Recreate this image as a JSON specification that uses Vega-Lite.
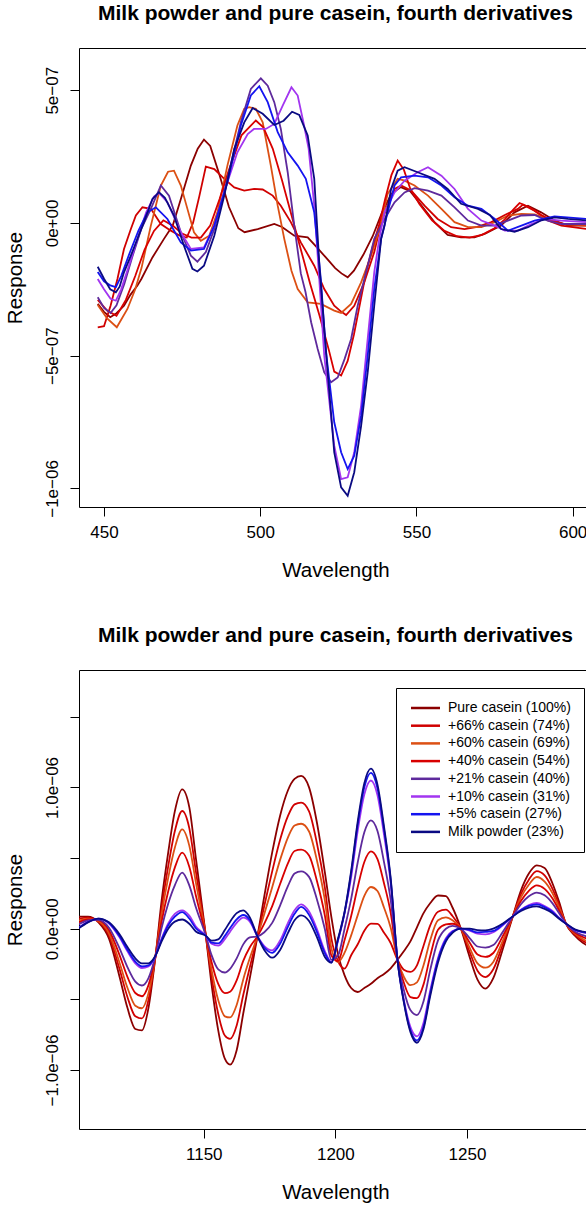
{
"$schema": "https://vega.github.io/schema/vega-lite/v6.json",
"background": "white",
"padding": {"left": 4, "top": 2, "right": 0, "bottom": 0},
"spacing": 43,
"config": {
  "font": "Liberation Sans",
  "view": {"stroke": "#000", "strokeWidth": 1},
  "axis": {"grid": false, "domain": false, "ticks": true, "tickColor": "#000", "tickSize": 9, "labelColor": "#000", "labelFont": "Liberation Sans", "labelFontSize": 17, "titleFont": "Liberation Sans", "titleFontSize": 20.5, "titleFontWeight": "normal", "titleColor": "#000", "labelFlush": false, "labelOverlap": false},
  "title": {"font": "Liberation Sans", "fontSize": 21, "fontWeight": "bold", "color": "#000", "anchor": "middle", "baseline": "alphabetic", "offset": 24}
},
"datasets": {
"series": [{"s":1,"name":"Pure casein (100%)"},{"s":2,"name":"+66% casein (74%)"},{"s":3,"name":"+60% casein (69%)"},{"s":4,"name":"+40% casein (54%)"},{"s":5,"name":"+21% casein (40%)"},{"s":6,"name":"+10% casein (31%)"},{"s":7,"name":"+5% casein (27%)"},{"s":8,"name":"Milk powder (23%)"}],
"p1": [
{"s":1,"w":448,"v":-3.05e-7},{"s":1,"w":450,"v":-3.35e-7},{"s":1,"w":452,"v":-3.55e-7},{"s":1,"w":454,"v":-3.4e-7},{"s":1,"w":456.4,"v":-3.12e-7},{"s":1,"w":458.5,"v":-2.7e-7},{"s":1,"w":460.7,"v":-2.36e-7},{"s":1,"w":462,"v":-2.1e-7},{"s":1,"w":465.5,"v":-1.3e-7},{"s":1,"w":469.2,"v":-0.6e-7},{"s":1,"w":472,"v":-0.1e-7},{"s":1,"w":474.6,"v":0.9e-7},{"s":1,"w":477.8,"v":2.16e-7},{"s":1,"w":480,"v":2.8e-7},{"s":1,"w":482,"v":3.14e-7},{"s":1,"w":484,"v":2.9e-7},{"s":1,"w":487,"v":1.8e-7},{"s":1,"w":490,"v":0.6e-7},{"s":1,"w":493,"v":-0.2e-7},{"s":1,"w":495,"v":-0.35e-7},{"s":1,"w":499.2,"v":-0.23e-7},{"s":1,"w":504.5,"v":-0.04e-7},{"s":1,"w":507,"v":-0.15e-7},{"s":1,"w":510.9,"v":-0.48e-7},{"s":1,"w":515.2,"v":-0.54e-7},{"s":1,"w":518,"v":-0.9e-7},{"s":1,"w":521,"v":-1.3e-7},{"s":1,"w":524,"v":-1.7e-7},{"s":1,"w":526,"v":-1.9e-7},{"s":1,"w":528,"v":-2.05e-7},{"s":1,"w":530,"v":-1.8e-7},{"s":1,"w":533,"v":-1.2e-7},{"s":1,"w":536,"v":-0.5e-7},{"s":1,"w":539,"v":0.4e-7},{"s":1,"w":542,"v":1.1e-7},{"s":1,"w":545,"v":1.35e-7},{"s":1,"w":548,"v":1.2e-7},{"s":1,"w":552,"v":0.6e-7},{"s":1,"w":556,"v":0},{"s":1,"w":560,"v":-0.45e-7},{"s":1,"w":564.3,"v":-0.54e-7},{"s":1,"w":568.6,"v":-0.54e-7},{"s":1,"w":572,"v":-0.4e-7},{"s":1,"w":577.1,"v":-0.1e-7},{"s":1,"w":581.4,"v":0.4e-7},{"s":1,"w":585.7,"v":0.65e-7},{"s":1,"w":589.9,"v":0.4e-7},{"s":1,"w":594.2,"v":0.09e-7},{"s":1,"w":598.5,"v":-0.1e-7},{"s":1,"w":604.7,"v":-0.1e-7},
{"s":2,"w":448,"v":-3.93e-7},{"s":2,"w":450,"v":-3.89e-7},{"s":2,"w":452.1,"v":-3.12e-7},{"s":2,"w":454.3,"v":-2.11e-7},{"s":2,"w":456.4,"v":-0.98e-7},{"s":2,"w":458.6,"v":-0.23e-7},{"s":2,"w":460.2,"v":0.28e-7},{"s":2,"w":462.3,"v":0.59e-7},{"s":2,"w":465,"v":0.53e-7},{"s":2,"w":468.2,"v":-0.04e-7},{"s":2,"w":471.4,"v":-0.29e-7},{"s":2,"w":474.6,"v":-0.5e-7},{"s":2,"w":476.5,"v":-0.55e-7},{"s":2,"w":478.5,"v":0},{"s":2,"w":480.5,"v":1.0e-7},{"s":2,"w":482.6,"v":2.12e-7},{"s":2,"w":485.3,"v":2.03e-7},{"s":2,"w":488.5,"v":1.66e-7},{"s":2,"w":491.7,"v":1.34e-7},{"s":2,"w":494.9,"v":1.22e-7},{"s":2,"w":498.1,"v":1.28e-7},{"s":2,"w":500.8,"v":1.26e-7},{"s":2,"w":504,"v":1.03e-7},{"s":2,"w":506.6,"v":0.65e-7},{"s":2,"w":509.8,"v":0.03e-7},{"s":2,"w":513,"v":-0.73e-7},{"s":2,"w":517.3,"v":-1.61e-7},{"s":2,"w":520.5,"v":-2.49e-7},{"s":2,"w":523.7,"v":-3.12e-7},{"s":2,"w":525.9,"v":-3.34e-7},{"s":2,"w":527.5,"v":-3.47e-7},{"s":2,"w":530.1,"v":-3.12e-7},{"s":2,"w":533.3,"v":-2.24e-7},{"s":2,"w":536.5,"v":-1.1e-7},{"s":2,"w":538.5,"v":-0.1e-7},{"s":2,"w":540.5,"v":0.6e-7},{"s":2,"w":543,"v":1.28e-7},{"s":2,"w":545.1,"v":1.41e-7},{"s":2,"w":548.3,"v":1.22e-7},{"s":2,"w":552.6,"v":0.65e-7},{"s":2,"w":556.8,"v":0.15e-7},{"s":2,"w":561.1,"v":-0.16e-7},{"s":2,"w":565.4,"v":-0.23e-7},{"s":2,"w":569.5,"v":-0.15e-7},{"s":2,"w":574,"v":0.03e-7},{"s":2,"w":578.3,"v":0.3e-7},{"s":2,"w":582.5,"v":0.53e-7},{"s":2,"w":584.1,"v":0.69e-7},{"s":2,"w":587.8,"v":0.46e-7},{"s":2,"w":592.1,"v":0.09e-7},{"s":2,"w":596.4,"v":-0.1e-7},{"s":2,"w":604.7,"v":-0.23e-7},
{"s":3,"w":448,"v":-3.09e-7},{"s":3,"w":451,"v":-3.6e-7},{"s":3,"w":454.1,"v":-3.93e-7},{"s":3,"w":457.5,"v":-3.24e-7},{"s":3,"w":460,"v":-2.5e-7},{"s":3,"w":462,"v":-1.7e-7},{"s":3,"w":465,"v":-0.1e-7},{"s":3,"w":468.2,"v":1.41e-7},{"s":3,"w":470.5,"v":1.93e-7},{"s":3,"w":472.4,"v":1.97e-7},{"s":3,"w":474.6,"v":1.41e-7},{"s":3,"w":476.7,"v":0.53e-7},{"s":3,"w":478.8,"v":-0.35e-7},{"s":3,"w":481,"v":-0.67e-7},{"s":3,"w":483.7,"v":-0.48e-7},{"s":3,"w":486.3,"v":0.4e-7},{"s":3,"w":489.5,"v":2.16e-7},{"s":3,"w":492.7,"v":3.67e-7},{"s":3,"w":494.9,"v":4.3e-7},{"s":3,"w":496.5,"v":4.36e-7},{"s":3,"w":498.6,"v":4.3e-7},{"s":3,"w":500.8,"v":3.79e-7},{"s":3,"w":503.4,"v":2.16e-7},{"s":3,"w":505.6,"v":0.65e-7},{"s":3,"w":507.7,"v":-0.6e-7},{"s":3,"w":510,"v":-1.8e-7},{"s":3,"w":512,"v":-2.49e-7},{"s":3,"w":515.2,"v":-2.99e-7},{"s":3,"w":519.4,"v":-3.05e-7},{"s":3,"w":523.7,"v":-3.3e-7},{"s":3,"w":525.9,"v":-3.39e-7},{"s":3,"w":529.1,"v":-3.05e-7},{"s":3,"w":532.3,"v":-2.24e-7},{"s":3,"w":535.5,"v":-1.23e-7},{"s":3,"w":538,"v":-0.3e-7},{"s":3,"w":540.8,"v":1.1e-7},{"s":3,"w":544,"v":1.66e-7},{"s":3,"w":546,"v":1.6e-7},{"s":3,"w":549.4,"v":1.41e-7},{"s":3,"w":553.7,"v":1.03e-7},{"s":3,"w":558,"v":0.53e-7},{"s":3,"w":562.2,"v":0.03e-7},{"s":3,"w":566.5,"v":-0.16e-7},{"s":3,"w":570.8,"v":-0.16e-7},{"s":3,"w":575.1,"v":0.03e-7},{"s":3,"w":579.3,"v":0.28e-7},{"s":3,"w":583.6,"v":0.34e-7},{"s":3,"w":587.8,"v":0.32e-7},{"s":3,"w":592.1,"v":0.15e-7},{"s":3,"w":596.4,"v":-0.04e-7},{"s":3,"w":604.7,"v":-0.1e-7},
{"s":4,"w":448,"v":-2.9e-7},{"s":4,"w":451,"v":-3.3e-7},{"s":4,"w":454,"v":-3.5e-7},{"s":4,"w":457,"v":-2.9e-7},{"s":4,"w":460,"v":-2.0e-7},{"s":4,"w":463,"v":-1.0e-7},{"s":4,"w":466,"v":-0.3e-7},{"s":4,"w":469,"v":0.1e-7},{"s":4,"w":472,"v":-0.1e-7},{"s":4,"w":475,"v":-0.4e-7},{"s":4,"w":478,"v":-0.55e-7},{"s":4,"w":481,"v":-0.55e-7},{"s":4,"w":484,"v":-0.1e-7},{"s":4,"w":487,"v":0.9e-7},{"s":4,"w":490,"v":2.0e-7},{"s":4,"w":494,"v":3.3e-7},{"s":4,"w":498.6,"v":3.86e-7},{"s":4,"w":501,"v":3.6e-7},{"s":4,"w":504,"v":2.8e-7},{"s":4,"w":507,"v":1.6e-7},{"s":4,"w":510,"v":0.3e-7},{"s":4,"w":513,"v":-1.0e-7},{"s":4,"w":516,"v":-2.3e-7},{"s":4,"w":519,"v":-3.5e-7},{"s":4,"w":522,"v":-4.8e-7},{"s":4,"w":523.7,"v":-5.6e-7},{"s":4,"w":525.9,"v":-5.75e-7},{"s":4,"w":528,"v":-5.2e-7},{"s":4,"w":530,"v":-4.2e-7},{"s":4,"w":532,"v":-3.0e-7},{"s":4,"w":534,"v":-1.8e-7},{"s":4,"w":536,"v":-0.9e-7},{"s":4,"w":538,"v":-0.1e-7},{"s":4,"w":540,"v":0.9e-7},{"s":4,"w":542,"v":1.8e-7},{"s":4,"w":544,"v":2.35e-7},{"s":4,"w":546,"v":2.0e-7},{"s":4,"w":548,"v":1.3e-7},{"s":4,"w":551,"v":0.7e-7},{"s":4,"w":555,"v":0.1e-7},{"s":4,"w":559,"v":-0.3e-7},{"s":4,"w":563,"v":-0.5e-7},{"s":4,"w":567,"v":-0.55e-7},{"s":4,"w":571,"v":-0.45e-7},{"s":4,"w":575,"v":-0.2e-7},{"s":4,"w":578,"v":0.1e-7},{"s":4,"w":581,"v":0.5e-7},{"s":4,"w":583,"v":0.75e-7},{"s":4,"w":586,"v":0.6e-7},{"s":4,"w":590,"v":0.3e-7},{"s":4,"w":594,"v":0.05e-7},{"s":4,"w":598,"v":-0.05e-7},{"s":4,"w":604.7,"v":-0.05e-7},
{"s":5,"w":448,"v":-2.8e-7},{"s":5,"w":450,"v":-3.2e-7},{"s":5,"w":452.1,"v":-3.39e-7},{"s":5,"w":454,"v":-3.1e-7},{"s":5,"w":456.5,"v":-2.3e-7},{"s":5,"w":459,"v":-1.3e-7},{"s":5,"w":462,"v":-0.2e-7},{"s":5,"w":465,"v":0.53e-7},{"s":5,"w":468.2,"v":1.41e-7},{"s":5,"w":470.8,"v":1.03e-7},{"s":5,"w":474.6,"v":-0.35e-7},{"s":5,"w":477.8,"v":-1.23e-7},{"s":5,"w":479.9,"v":-1.46e-7},{"s":5,"w":482.6,"v":-1.1e-7},{"s":5,"w":485.3,"v":-0.23e-7},{"s":5,"w":489.5,"v":1.66e-7},{"s":5,"w":493.8,"v":3.79e-7},{"s":5,"w":497,"v":5.05e-7},{"s":5,"w":500.2,"v":5.45e-7},{"s":5,"w":502.4,"v":5.17e-7},{"s":5,"w":504.5,"v":4.55e-7},{"s":5,"w":506.6,"v":3.54e-7},{"s":5,"w":508.8,"v":1.91e-7},{"s":5,"w":510.9,"v":-0.1e-7},{"s":5,"w":513,"v":-1.9e-7},{"s":5,"w":514.5,"v":-2.6e-7},{"s":5,"w":516.3,"v":-3.74e-7},{"s":5,"w":518.4,"v":-4.75e-7},{"s":5,"w":520.5,"v":-5.63e-7},{"s":5,"w":522.7,"v":-6.0e-7},{"s":5,"w":524.8,"v":-5.82e-7},{"s":5,"w":527,"v":-5.13e-7},{"s":5,"w":529.1,"v":-4.37e-7},{"s":5,"w":531.2,"v":-3.12e-7},{"s":5,"w":534.4,"v":-1.61e-7},{"s":5,"w":536.5,"v":-0.6e-7},{"s":5,"w":539.8,"v":0.15e-7},{"s":5,"w":543,"v":0.78e-7},{"s":5,"w":546.2,"v":1.15e-7},{"s":5,"w":549.4,"v":1.31e-7},{"s":5,"w":553.7,"v":1.22e-7},{"s":5,"w":558,"v":1.03e-7},{"s":5,"w":562.2,"v":0.59e-7},{"s":5,"w":566.5,"v":0.09e-7},{"s":5,"w":570.8,"v":-0.1e-7},{"s":5,"w":575,"v":-0.1e-7},{"s":5,"w":579.3,"v":0.09e-7},{"s":5,"w":583.6,"v":0.28e-7},{"s":5,"w":587.8,"v":0.3e-7},{"s":5,"w":592,"v":0.09e-7},{"s":5,"w":596.4,"v":-0.04e-7},{"s":5,"w":604.7,"v":-0.04e-7},
{"s":6,"w":448,"v":-2.11e-7},{"s":6,"w":450,"v":-2.5e-7},{"s":6,"w":452.1,"v":-2.86e-7},{"s":6,"w":453.8,"v":-2.93e-7},{"s":6,"w":455.5,"v":-2.5e-7},{"s":6,"w":458,"v":-1.6e-7},{"s":6,"w":461,"v":-0.5e-7},{"s":6,"w":463.5,"v":0.4e-7},{"s":6,"w":466,"v":0.99e-7},{"s":6,"w":467.6,"v":1.13e-7},{"s":6,"w":470.3,"v":0.78e-7},{"s":6,"w":474.6,"v":-0.35e-7},{"s":6,"w":477.8,"v":-0.98e-7},{"s":6,"w":482,"v":-0.92e-7},{"s":6,"w":485.3,"v":-0.1e-7},{"s":6,"w":489.5,"v":1.53e-7},{"s":6,"w":492.7,"v":2.66e-7},{"s":6,"w":496,"v":3.35e-7},{"s":6,"w":498,"v":3.54e-7},{"s":6,"w":501.8,"v":3.54e-7},{"s":6,"w":504.5,"v":3.73e-7},{"s":6,"w":507.2,"v":4.42e-7},{"s":6,"w":510,"v":5.11e-7},{"s":6,"w":512,"v":4.8e-7},{"s":6,"w":514,"v":3.7e-7},{"s":6,"w":515.5,"v":2.8e-7},{"s":6,"w":517.3,"v":0.65e-7},{"s":6,"w":518.9,"v":-2.11e-7},{"s":6,"w":520.5,"v":-5.0e-7},{"s":6,"w":523.7,"v":-8.39e-7},{"s":6,"w":525.9,"v":-9.65e-7},{"s":6,"w":528,"v":-9.58e-7},{"s":6,"w":530.1,"v":-8.64e-7},{"s":6,"w":532.3,"v":-6.88e-7},{"s":6,"w":534.4,"v":-4.37e-7},{"s":6,"w":536.5,"v":-1.86e-7},{"s":6,"w":538.1,"v":-0.6e-7},{"s":6,"w":539.8,"v":0.4e-7},{"s":6,"w":543,"v":1.15e-7},{"s":6,"w":546.2,"v":1.59e-7},{"s":6,"w":550.4,"v":1.91e-7},{"s":6,"w":553.7,"v":2.1e-7},{"s":6,"w":558,"v":1.78e-7},{"s":6,"w":562.2,"v":1.28e-7},{"s":6,"w":566.5,"v":0.53e-7},{"s":6,"w":570.8,"v":0.09e-7},{"s":6,"w":575.1,"v":-0.1e-7},{"s":6,"w":578.3,"v":-0.29e-7},{"s":6,"w":582.5,"v":-0.29e-7},{"s":6,"w":586.8,"v":-0.04e-7},{"s":6,"w":591,"v":0.15e-7},{"s":6,"w":596.4,"v":0.09e-7},{"s":6,"w":604.7,"v":0.03e-7},
{"s":7,"w":448,"v":-1.85e-7},{"s":7,"w":450,"v":-2.2e-7},{"s":7,"w":452,"v":-2.35e-7},{"s":7,"w":453.8,"v":-2.42e-7},{"s":7,"w":455.5,"v":-2.0e-7},{"s":7,"w":458,"v":-1.2e-7},{"s":7,"w":461,"v":-0.3e-7},{"s":7,"w":463.9,"v":0.4e-7},{"s":7,"w":466.6,"v":0.59e-7},{"s":7,"w":470.3,"v":0.15e-7},{"s":7,"w":474.6,"v":-0.73e-7},{"s":7,"w":477.8,"v":-1.04e-7},{"s":7,"w":482,"v":-0.98e-7},{"s":7,"w":485.3,"v":-0.1e-7},{"s":7,"w":489.5,"v":1.53e-7},{"s":7,"w":493.8,"v":3.67e-7},{"s":7,"w":497,"v":4.8e-7},{"s":7,"w":499.7,"v":5.15e-7},{"s":7,"w":502.4,"v":4.55e-7},{"s":7,"w":505.6,"v":3.42e-7},{"s":7,"w":508.8,"v":2.66e-7},{"s":7,"w":512,"v":2.16e-7},{"s":7,"w":514.6,"v":1.66e-7},{"s":7,"w":517.3,"v":0.4e-7},{"s":7,"w":519.4,"v":-2.11e-7},{"s":7,"w":521,"v":-4.8e-7},{"s":7,"w":523.7,"v":-7.51e-7},{"s":7,"w":525.9,"v":-8.64e-7},{"s":7,"w":528,"v":-9.27e-7},{"s":7,"w":530.1,"v":-8.77e-7},{"s":7,"w":532.3,"v":-7.26e-7},{"s":7,"w":534.4,"v":-5.0e-7},{"s":7,"w":536.5,"v":-2.49e-7},{"s":7,"w":538.7,"v":-0.6e-7},{"s":7,"w":540.8,"v":0.4e-7},{"s":7,"w":543,"v":1.41e-7},{"s":7,"w":545.1,"v":1.72e-7},{"s":7,"w":549.4,"v":1.78e-7},{"s":7,"w":553.7,"v":1.72e-7},{"s":7,"w":558,"v":1.41e-7},{"s":7,"w":562.2,"v":0.97e-7},{"s":7,"w":566.5,"v":0.65e-7},{"s":7,"w":570.8,"v":0.53e-7},{"s":7,"w":575.1,"v":0.15e-7},{"s":7,"w":579.3,"v":-0.29e-7},{"s":7,"w":583.6,"v":-0.1e-7},{"s":7,"w":587.8,"v":0.09e-7},{"s":7,"w":594.2,"v":0.25e-7},{"s":7,"w":604.7,"v":0.15e-7},
{"s":8,"w":448,"v":-1.65e-7},{"s":8,"w":450,"v":-2.1e-7},{"s":8,"w":452,"v":-2.5e-7},{"s":8,"w":453.8,"v":-2.61e-7},{"s":8,"w":455,"v":-2.4e-7},{"s":8,"w":456.4,"v":-1.86e-7},{"s":8,"w":458.6,"v":-1.23e-7},{"s":8,"w":460.7,"v":-0.6e-7},{"s":8,"w":462.8,"v":0.03e-7},{"s":8,"w":465.5,"v":0.9e-7},{"s":8,"w":467.6,"v":1.16e-7},{"s":8,"w":469.5,"v":0.95e-7},{"s":8,"w":472.4,"v":0.28e-7},{"s":8,"w":475.6,"v":-0.86e-7},{"s":8,"w":478.3,"v":-1.73e-7},{"s":8,"w":479.9,"v":-1.83e-7},{"s":8,"w":482,"v":-1.61e-7},{"s":8,"w":485.3,"v":-0.48e-7},{"s":8,"w":488.5,"v":1.03e-7},{"s":8,"w":491.7,"v":2.79e-7},{"s":8,"w":494.9,"v":3.79e-7},{"s":8,"w":497.6,"v":4.33e-7},{"s":8,"w":500.8,"v":4.11e-7},{"s":8,"w":504.5,"v":3.69e-7},{"s":8,"w":507.5,"v":3.85e-7},{"s":8,"w":510.2,"v":4.19e-7},{"s":8,"w":512.5,"v":4.07e-7},{"s":8,"w":515.2,"v":3.29e-7},{"s":8,"w":517.3,"v":1.66e-7},{"s":8,"w":519,"v":-1.7e-7},{"s":8,"w":521.6,"v":-5.63e-7},{"s":8,"w":523.7,"v":-8.64e-7},{"s":8,"w":525.9,"v":-9.96e-7},{"s":8,"w":528,"v":-10.28e-7},{"s":8,"w":530.1,"v":-9.39e-7},{"s":8,"w":532.3,"v":-7.64e-7},{"s":8,"w":534.4,"v":-5.63e-7},{"s":8,"w":536.5,"v":-3.12e-7},{"s":8,"w":538.7,"v":-0.6e-7},{"s":8,"w":539.8,"v":-0.1e-7},{"s":8,"w":541.9,"v":1.28e-7},{"s":8,"w":544,"v":1.97e-7},{"s":8,"w":546.2,"v":2.1e-7},{"s":8,"w":550.4,"v":1.91e-7},{"s":8,"w":555.8,"v":1.66e-7},{"s":8,"w":560,"v":1.28e-7},{"s":8,"w":564.3,"v":0.72e-7},{"s":8,"w":569.7,"v":0.53e-7},{"s":8,"w":573.5,"v":0.3e-7},{"s":8,"w":577.1,"v":-0.23e-7},{"s":8,"w":581.4,"v":-0.33e-7},{"s":8,"w":585.7,"v":-0.16e-7},{"s":8,"w":590,"v":0.1e-7},{"s":8,"w":594.2,"v":0.21e-7},{"s":8,"w":598.5,"v":0.15e-7},{"s":8,"w":604.7,"v":0.09e-7}
],
"p2": [
{"s":1,"w":1102,"v":0.85e-7},{"s":2,"w":1102,"v":0.69e-7},{"s":3,"w":1102,"v":0.55e-7},{"s":4,"w":1102,"v":0.39e-7},{"s":5,"w":1102,"v":0.25e-7},{"s":6,"w":1102,"v":0.01e-7},{"s":7,"w":1102,"v":-0.01e-7},{"s":8,"w":1102,"v":-0.05e-7},
{"s":1,"w":1106,"v":0.85e-7},{"s":2,"w":1106,"v":0.78e-7},{"s":3,"w":1106,"v":0.72e-7},{"s":4,"w":1106,"v":0.65e-7},{"s":5,"w":1106,"v":0.58e-7},{"s":6,"w":1106,"v":0.48e-7},{"s":7,"w":1106,"v":0.47e-7},{"s":8,"w":1106,"v":0.45e-7},
{"s":1,"w":1110,"v":0.45e-7},{"s":2,"w":1110,"v":0.5e-7},{"s":3,"w":1110,"v":0.54e-7},{"s":4,"w":1110,"v":0.59e-7},{"s":5,"w":1110,"v":0.63e-7},{"s":6,"w":1110,"v":0.7e-7},{"s":7,"w":1110,"v":0.71e-7},{"s":8,"w":1110,"v":0.72e-7},
{"s":1,"w":1114,"v":-0.7e-7},{"s":2,"w":1114,"v":-0.49e-7},{"s":3,"w":1114,"v":-0.32e-7},{"s":4,"w":1114,"v":-0.11e-7},{"s":5,"w":1114,"v":0.07e-7},{"s":6,"w":1114,"v":0.37e-7},{"s":7,"w":1114,"v":0.4e-7},{"s":8,"w":1114,"v":0.45e-7},
{"s":1,"w":1118,"v":-3.4e-7},{"s":2,"w":1118,"v":-2.86e-7},{"s":3,"w":1118,"v":-2.41e-7},{"s":4,"w":1118,"v":-1.87e-7},{"s":5,"w":1118,"v":-1.39e-7},{"s":6,"w":1118,"v":-0.61e-7},{"s":7,"w":1118,"v":-0.54e-7},{"s":8,"w":1118,"v":-0.4e-7},
{"s":1,"w":1121,"v":-5.6e-7},{"s":2,"w":1121,"v":-4.83e-7},{"s":3,"w":1121,"v":-4.18e-7},{"s":4,"w":1121,"v":-3.41e-7},{"s":5,"w":1121,"v":-2.72e-7},{"s":6,"w":1121,"v":-1.6e-7},{"s":7,"w":1121,"v":-1.49e-7},{"s":8,"w":1121,"v":-1.3e-7},
{"s":1,"w":1124,"v":-7.1e-7},{"s":2,"w":1124,"v":-6.2e-7},{"s":3,"w":1124,"v":-5.45e-7},{"s":4,"w":1124,"v":-4.55e-7},{"s":5,"w":1124,"v":-3.75e-7},{"s":6,"w":1124,"v":-2.45e-7},{"s":7,"w":1124,"v":-2.33e-7},{"s":8,"w":1124,"v":-2.1e-7},
{"s":1,"w":1126.5,"v":-7.2e-7},{"s":2,"w":1126.5,"v":-6.35e-7},{"s":3,"w":1126.5,"v":-5.63e-7},{"s":4,"w":1126.5,"v":-4.78e-7},{"s":5,"w":1126.5,"v":-4.02e-7},{"s":6,"w":1126.5,"v":-2.78e-7},{"s":7,"w":1126.5,"v":-2.66e-7},{"s":8,"w":1126.5,"v":-2.45e-7},
{"s":1,"w":1129,"v":-5.6e-7},{"s":2,"w":1129,"v":-5.03e-7},{"s":3,"w":1129,"v":-4.56e-7},{"s":4,"w":1129,"v":-3.99e-7},{"s":5,"w":1129,"v":-3.49e-7},{"s":6,"w":1129,"v":-2.67e-7},{"s":7,"w":1129,"v":-2.59e-7},{"s":8,"w":1129,"v":-2.45e-7},
{"s":1,"w":1131.7,"v":-1.9e-7},{"s":2,"w":1131.7,"v":-1.9e-7},{"s":3,"w":1131.7,"v":-1.9e-7},{"s":4,"w":1131.7,"v":-1.9e-7},{"s":5,"w":1131.7,"v":-1.9e-7},{"s":6,"w":1131.7,"v":-1.9e-7},{"s":7,"w":1131.7,"v":-1.9e-7},{"s":8,"w":1131.7,"v":-1.9e-7},
{"s":1,"w":1134,"v":2.0e-7},{"s":2,"w":1134,"v":1.48e-7},{"s":3,"w":1134,"v":1.04e-7},{"s":4,"w":1134,"v":0.52e-7},{"s":5,"w":1134,"v":0.06e-7},{"s":6,"w":1134,"v":-0.7e-7},{"s":7,"w":1134,"v":-0.77e-7},{"s":8,"w":1134,"v":-0.9e-7},
{"s":1,"w":1136.5,"v":5.4e-7},{"s":2,"w":1136.5,"v":4.43e-7},{"s":3,"w":1136.5,"v":3.62e-7},{"s":4,"w":1136.5,"v":2.65e-7},{"s":5,"w":1136.5,"v":1.78e-7},{"s":6,"w":1136.5,"v":0.38e-7},{"s":7,"w":1136.5,"v":0.24e-7},{"s":8,"w":1136.5,"v":0},
{"s":1,"w":1139,"v":8.3e-7},{"s":2,"w":1139,"v":6.9e-7},{"s":3,"w":1139,"v":5.73e-7},{"s":4,"w":1139,"v":4.32e-7},{"s":5,"w":1139,"v":3.07e-7},{"s":6,"w":1139,"v":1.05e-7},{"s":7,"w":1139,"v":0.85e-7},{"s":8,"w":1139,"v":0.5e-7},
{"s":1,"w":1141.8,"v":9.86e-7},{"s":2,"w":1141.8,"v":8.33e-7},{"s":3,"w":1141.8,"v":7.03e-7},{"s":4,"w":1141.8,"v":5.38e-7},{"s":5,"w":1141.8,"v":3.97e-7},{"s":6,"w":1141.8,"v":1.3e-7},{"s":7,"w":1141.8,"v":1.18e-7},{"s":8,"w":1141.8,"v":0.65e-7},
{"s":1,"w":1144.5,"v":8.6e-7},{"s":2,"w":1144.5,"v":7.12e-7},{"s":3,"w":1144.5,"v":5.88e-7},{"s":4,"w":1144.5,"v":4.39e-7},{"s":5,"w":1144.5,"v":3.07e-7},{"s":6,"w":1144.5,"v":0.93e-7},{"s":7,"w":1144.5,"v":0.72e-7},{"s":8,"w":1144.5,"v":0.35e-7},
{"s":1,"w":1147,"v":5.0e-7},{"s":2,"w":1147,"v":4.06e-7},{"s":3,"w":1147,"v":3.28e-7},{"s":4,"w":1147,"v":2.35e-7},{"s":5,"w":1147,"v":1.52e-7},{"s":6,"w":1147,"v":0.16e-7},{"s":7,"w":1147,"v":0.03e-7},{"s":8,"w":1147,"v":-0.2e-7},
{"s":1,"w":1150.8,"v":-0.5e-7},{"s":2,"w":1150.8,"v":-0.5e-7},{"s":3,"w":1150.8,"v":-0.5e-7},{"s":4,"w":1150.8,"v":-0.5e-7},{"s":5,"w":1150.8,"v":-0.5e-7},{"s":6,"w":1150.8,"v":-0.5e-7},{"s":7,"w":1150.8,"v":-0.5e-7},{"s":8,"w":1150.8,"v":-0.5e-7},
{"s":1,"w":1153,"v":-4.0e-7},{"s":2,"w":1153,"v":-3.43e-7},{"s":3,"w":1153,"v":-2.96e-7},{"s":4,"w":1153,"v":-2.39e-7},{"s":5,"w":1153,"v":-1.89e-7},{"s":6,"w":1153,"v":-1.07e-7},{"s":7,"w":1153,"v":-0.99e-7},{"s":8,"w":1153,"v":-0.85e-7},
{"s":1,"w":1155.5,"v":-7.2e-7},{"s":2,"w":1155.5,"v":-6.04e-7},{"s":3,"w":1155.5,"v":-5.07e-7},{"s":4,"w":1155.5,"v":-3.91e-7},{"s":5,"w":1155.5,"v":-2.88e-7},{"s":6,"w":1155.5,"v":-1.2e-7},{"s":7,"w":1155.5,"v":-1.04e-7},{"s":8,"w":1155.5,"v":-0.75e-7},
{"s":1,"w":1158,"v":-9.2e-7},{"s":2,"w":1158,"v":-7.56e-7},{"s":3,"w":1158,"v":-6.2e-7},{"s":4,"w":1158,"v":-4.56e-7},{"s":5,"w":1158,"v":-3.1e-7},{"s":6,"w":1158,"v":-0.74e-7},{"s":7,"w":1158,"v":-0.51e-7},{"s":8,"w":1158,"v":-0.1e-7},
{"s":1,"w":1160,"v":-9.62e-7},{"s":2,"w":1160,"v":-7.8e-7},{"s":3,"w":1160,"v":-6.28e-7},{"s":4,"w":1160,"v":-4.46e-7},{"s":5,"w":1160,"v":-2.84e-7},{"s":6,"w":1160,"v":-0.21e-7},{"s":7,"w":1160,"v":0.04e-7},{"s":8,"w":1160,"v":0.5e-7},
{"s":1,"w":1162.5,"v":-8.6e-7},{"s":2,"w":1162.5,"v":-6.85e-7},{"s":3,"w":1162.5,"v":-5.4e-7},{"s":4,"w":1162.5,"v":-3.65e-7},{"s":5,"w":1162.5,"v":-2.1e-7},{"s":6,"w":1162.5,"v":0.42e-7},{"s":7,"w":1162.5,"v":0.66e-7},{"s":8,"w":1162.5,"v":1.1e-7},
{"s":1,"w":1165,"v":-6.0e-7},{"s":2,"w":1165,"v":-4.69e-7},{"s":3,"w":1165,"v":-3.59e-7},{"s":4,"w":1165,"v":-2.28e-7},{"s":5,"w":1165,"v":-1.11e-7},{"s":6,"w":1165,"v":0.79e-7},{"s":7,"w":1165,"v":0.97e-7},{"s":8,"w":1165,"v":1.3e-7},
{"s":1,"w":1167.5,"v":-3.5e-7},{"s":2,"w":1167.5,"v":-2.73e-7},{"s":3,"w":1167.5,"v":-2.08e-7},{"s":4,"w":1167.5,"v":-1.31e-7},{"s":5,"w":1167.5,"v":-0.62e-7},{"s":6,"w":1167.5,"v":0.5e-7},{"s":7,"w":1167.5,"v":0.61e-7},{"s":8,"w":1167.5,"v":0.8e-7},
{"s":1,"w":1170.4,"v":-0.54e-7},{"s":2,"w":1170.4,"v":-0.54e-7},{"s":3,"w":1170.4,"v":-0.54e-7},{"s":4,"w":1170.4,"v":-0.54e-7},{"s":5,"w":1170.4,"v":-0.54e-7},{"s":6,"w":1170.4,"v":-0.54e-7},{"s":7,"w":1170.4,"v":-0.54e-7},{"s":8,"w":1170.4,"v":-0.54e-7},
{"s":1,"w":1173,"v":2.3e-7},{"s":2,"w":1173,"v":1.62e-7},{"s":3,"w":1173,"v":1.05e-7},{"s":4,"w":1173,"v":0.36e-7},{"s":5,"w":1173,"v":-0.25e-7},{"s":6,"w":1173,"v":-1.23e-7},{"s":7,"w":1173,"v":-1.33e-7},{"s":8,"w":1173,"v":-1.5e-7},
{"s":1,"w":1176,"v":5.4e-7},{"s":2,"w":1176,"v":4.06e-7},{"s":3,"w":1176,"v":2.94e-7},{"s":4,"w":1176,"v":1.6e-7},{"s":5,"w":1176,"v":0.41e-7},{"s":6,"w":1176,"v":-1.53e-7},{"s":7,"w":1176,"v":-1.71e-7},{"s":8,"w":1176,"v":-2.05e-7},
{"s":1,"w":1179,"v":8.0e-7},{"s":2,"w":1179,"v":6.29e-7},{"s":3,"w":1179,"v":4.87e-7},{"s":4,"w":1179,"v":3.16e-7},{"s":5,"w":1179,"v":1.64e-7},{"s":6,"w":1179,"v":-0.84e-7},{"s":7,"w":1179,"v":-1.07e-7},{"s":8,"w":1179,"v":-1.5e-7},
{"s":1,"w":1182,"v":9.8e-7},{"s":2,"w":1182,"v":7.98e-7},{"s":3,"w":1182,"v":6.47e-7},{"s":4,"w":1182,"v":4.65e-7},{"s":5,"w":1182,"v":3.03e-7},{"s":6,"w":1182,"v":0.41e-7},{"s":7,"w":1182,"v":0.15e-7},{"s":8,"w":1182,"v":-0.3e-7},
{"s":1,"w":1184.5,"v":10.6e-7},{"s":2,"w":1184.5,"v":8.8e-7},{"s":3,"w":1184.5,"v":7.3e-7},{"s":4,"w":1184.5,"v":5.5e-7},{"s":5,"w":1184.5,"v":3.9e-7},{"s":6,"w":1184.5,"v":1.3e-7},{"s":7,"w":1184.5,"v":1.05e-7},{"s":8,"w":1184.5,"v":0.6e-7},
{"s":1,"w":1187,"v":10.81e-7},{"s":2,"w":1187,"v":8.92e-7},{"s":3,"w":1187,"v":7.43e-7},{"s":4,"w":1187,"v":5.59e-7},{"s":5,"w":1187,"v":4.06e-7},{"s":6,"w":1187,"v":1.72e-7},{"s":7,"w":1187,"v":1.54e-7},{"s":8,"w":1187,"v":0.95e-7},
{"s":1,"w":1190,"v":10.0e-7},{"s":2,"w":1190,"v":8.3e-7},{"s":3,"w":1190,"v":6.88e-7},{"s":4,"w":1190,"v":5.18e-7},{"s":5,"w":1190,"v":3.67e-7},{"s":6,"w":1190,"v":1.21e-7},{"s":7,"w":1190,"v":0.98e-7},{"s":8,"w":1190,"v":0.55e-7},
{"s":1,"w":1193,"v":7.5e-7},{"s":2,"w":1193,"v":6.04e-7},{"s":3,"w":1193,"v":4.83e-7},{"s":4,"w":1193,"v":3.37e-7},{"s":5,"w":1193,"v":2.07e-7},{"s":6,"w":1193,"v":-0.03e-7},{"s":7,"w":1193,"v":-0.24e-7},{"s":8,"w":1193,"v":-0.6e-7},
{"s":1,"w":1196,"v":4.0e-7},{"s":2,"w":1196,"v":2.92e-7},{"s":3,"w":1196,"v":2.02e-7},{"s":4,"w":1196,"v":0.94e-7},{"s":5,"w":1196,"v":-0.02e-7},{"s":6,"w":1196,"v":-1.58e-7},{"s":7,"w":1196,"v":-1.73e-7},{"s":8,"w":1196,"v":-2.0e-7},
{"s":1,"w":1198.5,"v":0.8e-7},{"s":2,"w":1198.5,"v":-0.7e-7},{"s":3,"w":1198.5,"v":-1.4e-7},{"s":4,"w":1198.5,"v":-1.9e-7},{"s":5,"w":1198.5,"v":-2.2e-7},{"s":6,"w":1198.5,"v":-2.35e-7},{"s":7,"w":1198.5,"v":-2.4e-7},{"s":8,"w":1198.5,"v":-2.4e-7},
{"s":1,"w":1201,"v":-1.8e-7},{"s":2,"w":1201,"v":-2.3e-7},{"s":3,"w":1201,"v":-2.36e-7},{"s":4,"w":1201,"v":-2.3e-7},{"s":5,"w":1201,"v":-1.9e-7},{"s":6,"w":1201,"v":-0.85e-7},{"s":7,"w":1201,"v":-0.8e-7},{"s":8,"w":1201,"v":-0.7e-7},
{"s":1,"w":1203.5,"v":-3.3e-7},{"s":2,"w":1203.5,"v":-2.83e-7},{"s":3,"w":1203.5,"v":-1.7e-7},{"s":4,"w":1203.5,"v":-0.8e-7},{"s":5,"w":1203.5,"v":0},{"s":6,"w":1203.5,"v":1.1e-7},{"s":7,"w":1203.5,"v":1.15e-7},{"s":8,"w":1203.5,"v":1.2e-7},
{"s":1,"w":1206,"v":-4.2e-7},{"s":2,"w":1206,"v":-1.88e-7},{"s":3,"w":1206,"v":-0.47e-7},{"s":4,"w":1206,"v":0.9e-7},{"s":5,"w":1206,"v":2.11e-7},{"s":6,"w":1206,"v":3.64e-7},{"s":7,"w":1206,"v":3.93e-7},{"s":8,"w":1206,"v":4.1e-7},
{"s":1,"w":1208.5,"v":-4.48e-7},{"s":2,"w":1208.5,"v":-1.1e-7},{"s":3,"w":1208.5,"v":0.96e-7},{"s":4,"w":1208.5,"v":2.95e-7},{"s":5,"w":1208.5,"v":4.7e-7},{"s":6,"w":1208.5,"v":6.94e-7},{"s":7,"w":1208.5,"v":7.36e-7},{"s":8,"w":1208.5,"v":7.6e-7},
{"s":1,"w":1211,"v":-4.2e-7},{"s":2,"w":1211,"v":-0.14e-7},{"s":3,"w":1211,"v":2.33e-7},{"s":4,"w":1211,"v":4.72e-7},{"s":5,"w":1211,"v":6.82e-7},{"s":6,"w":1211,"v":9.5e-7},{"s":7,"w":1211,"v":10.01e-7},{"s":8,"w":1211,"v":10.3e-7},
{"s":1,"w":1213.5,"v":-3.9e-7},{"s":2,"w":1213.5,"v":0.36e-7},{"s":3,"w":1213.5,"v":2.95e-7},{"s":4,"w":1213.5,"v":5.47e-7},{"s":5,"w":1213.5,"v":7.67e-7},{"s":6,"w":1213.5,"v":10.49e-7},{"s":7,"w":1213.5,"v":11.03e-7},{"s":8,"w":1213.5,"v":11.33e-7},
{"s":1,"w":1216,"v":-3.5e-7},{"s":2,"w":1216,"v":0.34e-7},{"s":3,"w":1216,"v":2.67e-7},{"s":4,"w":1216,"v":4.93e-7},{"s":5,"w":1216,"v":6.91e-7},{"s":6,"w":1216,"v":9.45e-7},{"s":7,"w":1216,"v":9.93e-7},{"s":8,"w":1216,"v":10.2e-7},
{"s":1,"w":1218.5,"v":-3.2e-7},{"s":2,"w":1218.5,"v":-0.29e-7},{"s":3,"w":1218.5,"v":1.48e-7},{"s":4,"w":1218.5,"v":3.2e-7},{"s":5,"w":1218.5,"v":4.7e-7},{"s":6,"w":1218.5,"v":6.63e-7},{"s":7,"w":1218.5,"v":6.99e-7},{"s":8,"w":1218.5,"v":7.2e-7},
{"s":1,"w":1221,"v":-2.8e-7},{"s":2,"w":1221,"v":-1.01e-7},{"s":3,"w":1221,"v":0.08e-7},{"s":4,"w":1221,"v":1.14e-7},{"s":5,"w":1221,"v":2.06e-7},{"s":6,"w":1221,"v":3.25e-7},{"s":7,"w":1221,"v":3.47e-7},{"s":8,"w":1221,"v":3.6e-7},
{"s":1,"w":1223.6,"v":-2.2e-7},{"s":2,"w":1223.6,"v":-2.2e-7},{"s":3,"w":1223.6,"v":-2.2e-7},{"s":4,"w":1223.6,"v":-2.2e-7},{"s":5,"w":1223.6,"v":-2.2e-7},{"s":6,"w":1223.6,"v":-2.2e-7},{"s":7,"w":1223.6,"v":-2.2e-7},{"s":8,"w":1223.6,"v":-2.2e-7},
{"s":1,"w":1226,"v":-1.6e-7},{"s":2,"w":1226,"v":-2.9e-7},{"s":3,"w":1226,"v":-3.4e-7},{"s":4,"w":1226,"v":-3.81e-7},{"s":5,"w":1226,"v":-4.34e-7},{"s":6,"w":1226,"v":-5.0e-7},{"s":7,"w":1226,"v":-5.13e-7},{"s":8,"w":1226,"v":-5.2e-7},
{"s":1,"w":1228.5,"v":-0.9e-7},{"s":2,"w":1228.5,"v":-3.06e-7},{"s":3,"w":1228.5,"v":-4.0e-7},{"s":4,"w":1228.5,"v":-4.84e-7},{"s":5,"w":1228.5,"v":-5.76e-7},{"s":6,"w":1228.5,"v":-6.95e-7},{"s":7,"w":1228.5,"v":-7.17e-7},{"s":8,"w":1228.5,"v":-7.3e-7},
{"s":1,"w":1231,"v":0.1e-7},{"s":2,"w":1231,"v":-2.6e-7},{"s":3,"w":1231,"v":-3.8e-7},{"s":4,"w":1231,"v":-4.92e-7},{"s":5,"w":1231,"v":-6.11e-7},{"s":6,"w":1231,"v":-7.62e-7},{"s":7,"w":1231,"v":-7.91e-7},{"s":8,"w":1231,"v":-8.07e-7},
{"s":1,"w":1233.5,"v":1.1e-7},{"s":2,"w":1233.5,"v":-1.2e-7},{"s":3,"w":1233.5,"v":-2.59e-7},{"s":4,"w":1233.5,"v":-3.94e-7},{"s":5,"w":1233.5,"v":-5.13e-7},{"s":6,"w":1233.5,"v":-6.65e-7},{"s":7,"w":1233.5,"v":-6.94e-7},{"s":8,"w":1233.5,"v":-7.1e-7},
{"s":1,"w":1236,"v":1.8e-7},{"s":2,"w":1236,"v":0.22e-7},{"s":3,"w":1236,"v":-0.84e-7},{"s":4,"w":1236,"v":-1.96e-7},{"s":5,"w":1236,"v":-2.95e-7},{"s":6,"w":1236,"v":-4.4e-7},{"s":7,"w":1236,"v":-4.6e-7},{"s":8,"w":1236,"v":-4.8e-7},
{"s":1,"w":1239,"v":2.35e-7},{"s":2,"w":1239,"v":1.2e-7},{"s":3,"w":1239,"v":0.6e-7},{"s":4,"w":1239,"v":-0.07e-7},{"s":5,"w":1239,"v":-0.83e-7},{"s":6,"w":1239,"v":-2.07e-7},{"s":7,"w":1239,"v":-2.19e-7},{"s":8,"w":1239,"v":-2.4e-7},
{"s":1,"w":1242,"v":2.3e-7},{"s":2,"w":1242,"v":1.35e-7},{"s":3,"w":1242,"v":0.8e-7},{"s":4,"w":1242,"v":0.3e-7},{"s":5,"w":1242,"v":0},{"s":6,"w":1242,"v":-0.68e-7},{"s":7,"w":1242,"v":-0.76e-7},{"s":8,"w":1242,"v":-0.9e-7},
{"s":1,"w":1244.5,"v":1.5e-7},{"s":2,"w":1244.5,"v":0.9e-7},{"s":3,"w":1244.5,"v":0.6e-7},{"s":4,"w":1244.5,"v":0.35e-7},{"s":5,"w":1244.5,"v":0.2e-7},{"s":6,"w":1244.5,"v":-0.17e-7},{"s":7,"w":1244.5,"v":-0.22e-7},{"s":8,"w":1244.5,"v":-0.3e-7},
{"s":1,"w":1247.7,"v":0},{"s":2,"w":1247.7,"v":0},{"s":3,"w":1247.7,"v":0},{"s":4,"w":1247.7,"v":0},{"s":5,"w":1247.7,"v":0},{"s":6,"w":1247.7,"v":0},{"s":7,"w":1247.7,"v":0},{"s":8,"w":1247.7,"v":0},
{"s":1,"w":1251,"v":-2.0e-7},{"s":2,"w":1251,"v":-1.64e-7},{"s":3,"w":1251,"v":-1.34e-7},{"s":4,"w":1251,"v":-0.98e-7},{"s":5,"w":1251,"v":-0.66e-7},{"s":6,"w":1251,"v":-0.14e-7},{"s":7,"w":1251,"v":-0.09e-7},{"s":8,"w":1251,"v":0},
{"s":1,"w":1254,"v":-3.6e-7},{"s":2,"w":1254,"v":-2.97e-7},{"s":3,"w":1254,"v":-2.45e-7},{"s":4,"w":1254,"v":-1.82e-7},{"s":5,"w":1254,"v":-1.26e-7},{"s":6,"w":1254,"v":-0.35e-7},{"s":7,"w":1254,"v":-0.26e-7},{"s":8,"w":1254,"v":-0.1e-7},
{"s":1,"w":1257,"v":-4.24e-7},{"s":2,"w":1257,"v":-3.42e-7},{"s":3,"w":1257,"v":-2.76e-7},{"s":4,"w":1257,"v":-2.0e-7},{"s":5,"w":1257,"v":-1.34e-7},{"s":6,"w":1257,"v":-0.4e-7},{"s":7,"w":1257,"v":-0.23e-7},{"s":8,"w":1257,"v":-0.12e-7},
{"s":1,"w":1260,"v":-3.5e-7},{"s":2,"w":1260,"v":-2.87e-7},{"s":3,"w":1260,"v":-2.35e-7},{"s":4,"w":1260,"v":-1.72e-7},{"s":5,"w":1260,"v":-1.16e-7},{"s":6,"w":1260,"v":-0.25e-7},{"s":7,"w":1260,"v":-0.16e-7},{"s":8,"w":1260,"v":0},
{"s":1,"w":1263.5,"v":-1.5e-7},{"s":2,"w":1263.5,"v":-1.17e-7},{"s":3,"w":1263.5,"v":-0.89e-7},{"s":4,"w":1263.5,"v":-0.56e-7},{"s":5,"w":1263.5,"v":-0.26e-7},{"s":6,"w":1263.5,"v":0.22e-7},{"s":7,"w":1263.5,"v":0.27e-7},{"s":8,"w":1263.5,"v":0.35e-7},
{"s":1,"w":1267.4,"v":0.87e-7},{"s":2,"w":1267.4,"v":0.87e-7},{"s":3,"w":1267.4,"v":0.87e-7},{"s":4,"w":1267.4,"v":0.87e-7},{"s":5,"w":1267.4,"v":0.87e-7},{"s":6,"w":1267.4,"v":0.87e-7},{"s":7,"w":1267.4,"v":0.87e-7},{"s":8,"w":1267.4,"v":0.87e-7},
{"s":1,"w":1270.5,"v":2.7e-7},{"s":2,"w":1270.5,"v":2.44e-7},{"s":3,"w":1270.5,"v":2.22e-7},{"s":4,"w":1270.5,"v":1.96e-7},{"s":5,"w":1270.5,"v":1.73e-7},{"s":6,"w":1270.5,"v":1.35e-7},{"s":7,"w":1270.5,"v":1.32e-7},{"s":8,"w":1270.5,"v":1.25e-7},
{"s":1,"w":1273.5,"v":3.9e-7},{"s":2,"w":1273.5,"v":3.47e-7},{"s":3,"w":1273.5,"v":3.11e-7},{"s":4,"w":1273.5,"v":2.68e-7},{"s":5,"w":1273.5,"v":2.29e-7},{"s":6,"w":1273.5,"v":1.67e-7},{"s":7,"w":1273.5,"v":1.61e-7},{"s":8,"w":1273.5,"v":1.5e-7},
{"s":1,"w":1276.5,"v":4.48e-7},{"s":2,"w":1276.5,"v":4.08e-7},{"s":3,"w":1276.5,"v":3.66e-7},{"s":4,"w":1276.5,"v":3.07e-7},{"s":5,"w":1276.5,"v":2.55e-7},{"s":6,"w":1276.5,"v":1.82e-7},{"s":7,"w":1276.5,"v":1.72e-7},{"s":8,"w":1276.5,"v":1.58e-7},
{"s":1,"w":1279.5,"v":4.3e-7},{"s":2,"w":1279.5,"v":3.78e-7},{"s":3,"w":1279.5,"v":3.34e-7},{"s":4,"w":1279.5,"v":2.82e-7},{"s":5,"w":1279.5,"v":2.36e-7},{"s":6,"w":1279.5,"v":1.6e-7},{"s":7,"w":1279.5,"v":1.53e-7},{"s":8,"w":1279.5,"v":1.4e-7},
{"s":1,"w":1282.5,"v":3.2e-7},{"s":2,"w":1282.5,"v":2.82e-7},{"s":3,"w":1282.5,"v":2.51e-7},{"s":4,"w":1282.5,"v":2.13e-7},{"s":5,"w":1282.5,"v":1.79e-7},{"s":6,"w":1282.5,"v":1.25e-7},{"s":7,"w":1282.5,"v":1.19e-7},{"s":8,"w":1282.5,"v":1.1e-7},
{"s":1,"w":1285,"v":1.9e-7},{"s":2,"w":1285,"v":1.68e-7},{"s":3,"w":1285,"v":1.5e-7},{"s":4,"w":1285,"v":1.29e-7},{"s":5,"w":1285,"v":1.1e-7},{"s":6,"w":1285,"v":0.78e-7},{"s":7,"w":1285,"v":0.75e-7},{"s":8,"w":1285,"v":0.7e-7},
{"s":1,"w":1287.6,"v":0.36e-7},{"s":2,"w":1287.6,"v":0.36e-7},{"s":3,"w":1287.6,"v":0.36e-7},{"s":4,"w":1287.6,"v":0.36e-7},{"s":5,"w":1287.6,"v":0.36e-7},{"s":6,"w":1287.6,"v":0.36e-7},{"s":7,"w":1287.6,"v":0.36e-7},{"s":8,"w":1287.6,"v":0.36e-7},
{"s":1,"w":1291,"v":-0.5e-7},{"s":2,"w":1291,"v":-0.42e-7},{"s":3,"w":1291,"v":-0.35e-7},{"s":4,"w":1291,"v":-0.27e-7},{"s":5,"w":1291,"v":-0.2e-7},{"s":6,"w":1291,"v":-0.08e-7},{"s":7,"w":1291,"v":-0.07e-7},{"s":8,"w":1291,"v":-0.05e-7},
{"s":1,"w":1294,"v":-1.0e-7},{"s":2,"w":1294,"v":-0.86e-7},{"s":3,"w":1294,"v":-0.74e-7},{"s":4,"w":1294,"v":-0.59e-7},{"s":5,"w":1294,"v":-0.46e-7},{"s":6,"w":1294,"v":-0.26e-7},{"s":7,"w":1294,"v":-0.24e-7},{"s":8,"w":1294,"v":-0.2e-7},
{"s":1,"w":1297,"v":-1.3e-7},{"s":2,"w":1297,"v":-1.12e-7},{"s":3,"w":1297,"v":-0.96e-7},{"s":4,"w":1297,"v":-0.78e-7},{"s":5,"w":1297,"v":-0.62e-7},{"s":6,"w":1297,"v":-0.35e-7},{"s":7,"w":1297,"v":-0.33e-7},{"s":8,"w":1297,"v":-0.28e-7}
]
},
"vconcat": [
{
  "title": "Milk powder and pure casein, fourth derivatives",
  "width": 513, "height": 459,
  "data": {"name": "p1"},
  "transform": [{"lookup": "s", "from": {"data": {"name": "series"}, "key": "s", "fields": ["name"]}}],
  "mark": {"type": "line", "clip": true, "strokeWidth": 1.8, "interpolate": "linear"},
  "encoding": {
    "x": {"field": "w", "type": "quantitative", "scale": {"domain": [442, 606.2], "nice": false, "zero": false},
      "axis": {"title": "Wavelength", "values": [450, 500, 550, 600], "format": "d", "labelPadding": 21, "labelBaseline": "alphabetic", "titleX": 256.5, "titleY": 69, "titleBaseline": "alphabetic", "titleAlign": "center"}},
    "y": {"field": "v", "type": "quantitative", "scale": {"domain": [-1.070e-6, 6.59e-7], "nice": false, "zero": false},
      "axis": {"title": "Response", "values": [-1e-6, -5e-7, 0, 5e-7],
        "labelExpr": "datum.value > 4e-7 ? '5e−07' : datum.value > -1e-9 ? '0e+00' : datum.value > -6e-7 ? '−5e−07' : '−1e−06'",
        "labelAngle": 270, "labelAlign": "center", "labelBaseline": "alphabetic", "labelPadding": 13,
        "titleX": -58, "titleAngle": 270, "titleAlign": "center", "titleBaseline": "alphabetic"}},
    "color": {"field": "name", "type": "nominal",
      "scale": {"domain": ["Pure casein (100%)", "+66% casein (74%)", "+60% casein (69%)", "+40% casein (54%)", "+21% casein (40%)", "+10% casein (31%)", "+5% casein (27%)", "Milk powder (23%)"],
        "range": ["#8B0000", "#D00000", "#DC5014", "#D80000", "#5E2A9C", "#A235F0", "#1414F0", "#0A0A82"]},
      "legend": null}
  }
},
{
  "title": "Milk powder and pure casein, fourth derivatives",
  "width": 513, "height": 459,
  "data": {"name": "p2"},
  "transform": [{"lookup": "s", "from": {"data": {"name": "series"}, "key": "s", "fields": ["name"]}}],
  "mark": {"type": "line", "clip": true, "strokeWidth": 1.8, "interpolate": "monotone"},
  "encoding": {
    "x": {"field": "w", "type": "quantitative", "scale": {"domain": [1102.6, 1297.5], "nice": false, "zero": false},
      "axis": {"title": "Wavelength", "values": [1150, 1200, 1250], "format": "d", "labelPadding": 21, "labelBaseline": "alphabetic", "titleX": 256.5, "titleY": 69, "titleBaseline": "alphabetic", "titleAlign": "center"}},
    "y": {"field": "v", "type": "quantitative", "scale": {"domain": [-1.4176e-6, 1.831e-6], "nice": false, "zero": false},
      "axis": {"title": "Response", "values": [-1e-6, -5e-7, 0, 5e-7, 1e-6, 1.5e-6],
        "labelExpr": "(datum.value > 9e-7 && datum.value < 1.1e-6) ? '1.0e−06' : (abs(datum.value) < 1e-9) ? '0.0e+00' : (datum.value < -9e-7) ? '−1.0e−06' : ''",
        "labelAngle": 270, "labelAlign": "center", "labelBaseline": "alphabetic", "labelPadding": 13,
        "titleX": -58, "titleAngle": 270, "titleAlign": "center", "titleBaseline": "alphabetic"}},
    "color": {"field": "name", "type": "nominal",
      "scale": {"domain": ["Pure casein (100%)", "+66% casein (74%)", "+60% casein (69%)", "+40% casein (54%)", "+21% casein (40%)", "+10% casein (31%)", "+5% casein (27%)", "Milk powder (23%)"],
        "range": ["#8B0000", "#D00000", "#DC5014", "#D80000", "#5E2A9C", "#A235F0", "#1414F0", "#0A0A82"]},
      "legend": {"orient": "none", "legendX": 317, "legendY": 18, "title": null, "strokeColor": "#000", "fillColor": "#fff", "padding": 13,
        "symbolType": "M-1,0H4.8", "symbolSize": 100, "symbolStrokeWidth": 2.5, "labelFontSize": 14, "labelFont": "Liberation Sans", "labelColor": "#000", "labelOffset": 25, "rowPadding": 3.7}}
  }
}
],
"resolve": {"scale": {"x": "independent", "y": "independent", "color": "shared"}, "legend": {"color": "independent"}}
}
